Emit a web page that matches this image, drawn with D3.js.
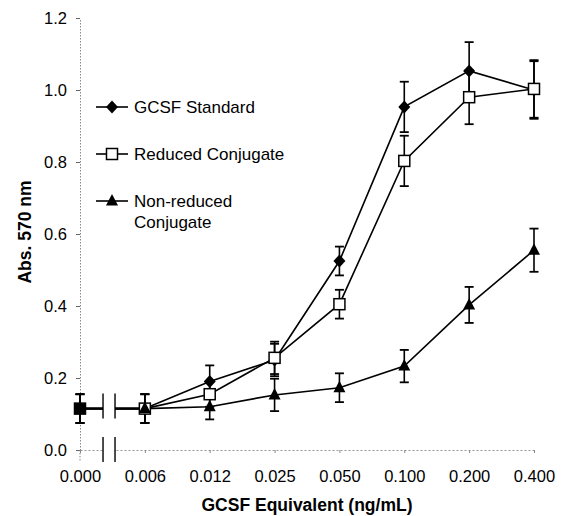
<!DOCTYPE html>
<html>
<head>
<meta charset="utf-8">
<script src="https://cdn.jsdelivr.net/npm/d3@7"></script>
<style>
  html, body { margin: 0; padding: 0; background: #fff; }
  svg { display: block; font-family: "Liberation Sans", Arial, sans-serif; }
</style>
</head>
<body>
<div id="chart"></div>
<script>
// Data
const concentrations = ["0.000", "0.006", "0.012", "0.025", "0.050", "0.100", "0.200", "0.400"];
const yTicks = [0, 0.2, 0.4, 0.6, 0.8, 1.0, 1.2];

const gcsfStandard = [0.115, 0.115, 0.19, 0.25, 0.525, 0.953, 1.053, 1.0];
const gcsfStandardErr = [0.04, 0.04, 0.045, 0.045, 0.04, 0.07, 0.08, 0.08];
const reducedConj = [0.115, 0.115, 0.155, 0.256, 0.405, 0.803, 0.98, 1.003];
const reducedConjErr = [0.04, 0.04, 0.035, 0.045, 0.04, 0.07, 0.075, 0.08];
const nonReducedConj = [0.115, 0.115, 0.12, 0.153, 0.173, 0.233, 0.403, 0.555];
const nonReducedConjErr = [0.04, 0.04, 0.035, 0.045, 0.04, 0.045, 0.05, 0.06];

const width = 565, height = 516;
const margin = { top: 18, right: 31, bottom: 66, left: 80 };

const svg = d3.select('#chart').append('svg')
    .attr('width', width)
    .attr('height', height);

const scaleX = d3.scalePoint(concentrations, [margin.left, width - margin.right]);
const scaleY = d3.scaleLinear([0, 1.2], [height - margin.bottom, margin.top]);

// break between 0.000 and 0.006 (fractions of that interval)
const breakA = scaleX(concentrations[0]) + (scaleX(concentrations[1]) - scaleX(concentrations[0])) * 0.355;
const breakB = scaleX(concentrations[0]) + (scaleX(concentrations[1]) - scaleX(concentrations[0])) * 0.54;

// Axes
const axisY = svg.append('g')
    .attr('transform', `translate(${margin.left},0)`)
    .call(d3.axisLeft(scaleY).tickValues(yTicks).tickFormat(d3.format('.1f'))
        .tickSizeInner(4).tickSizeOuter(0).tickPadding(9));
axisY.select('.domain').attr('stroke', '#888').attr('stroke-dasharray', '1.5,1.5');
axisY.selectAll('.tick line').attr('stroke', '#666');
axisY.selectAll('.tick text').attr('font-size', 16.5).attr('font-family', '"Liberation Sans", Arial, sans-serif').attr('fill', '#000');
// little extension of y axis below zero
svg.append('line')
    .attr('x1', margin.left).attr('x2', margin.left)
    .attr('y1', scaleY(0)).attr('y2', scaleY(0) + 12)
    .attr('stroke', '#888').attr('stroke-dasharray', '1.5,1.5');

const axisX = svg.append('g')
    .attr('transform', `translate(0,${scaleY(0)})`)
    .call(d3.axisBottom(scaleX).tickSizeInner(3).tickSizeOuter(0).tickPadding(17));
axisX.select('.domain').attr('stroke', '#999').attr('stroke-dasharray', '2,2');
axisX.selectAll('.tick line').attr('stroke', '#888');
axisX.selectAll('.tick text').attr('font-size', 16.5).attr('font-family', '"Liberation Sans", Arial, sans-serif').attr('fill', '#000');

// axis break marks
svg.append('rect')
    .attr('x', breakA + 1).attr('y', scaleY(0) - 2)
    .attr('width', breakB - breakA - 2).attr('height', 4)
    .attr('fill', '#fff');
[breakA, breakB].forEach(bx => {
    svg.append('line')
        .attr('x1', bx).attr('x2', bx)
        .attr('y1', scaleY(0) - 13).attr('y2', scaleY(0) + 12)
        .attr('stroke', '#000').attr('stroke-width', 1.4);
});

// Axis labels
svg.append('text')
    .attr('x', 307).attr('y', 511)
    .attr('text-anchor', 'middle')
    .attr('font-size', 17.5).attr('font-weight', 'bold')
    .text('GCSF Equivalent (ng/mL)');

svg.append('text')
    .attr('transform', `translate(31,${232}) rotate(-90)`)
    .attr('text-anchor', 'middle')
    .attr('font-size', 17.5).attr('font-weight', 'bold')
    .text('Abs. 570 nm');

const series = [
    { name: 'GCSF Standard', values: gcsfStandard, errors: gcsfStandardErr, marker: 'diamond' },
    { name: 'Reduced Conjugate', values: reducedConj, errors: reducedConjErr, marker: 'square' },
    { name: 'Non-reduced|Conjugate', values: nonReducedConj, errors: nonReducedConjErr, marker: 'triangle' }
];

function drawMarker(g, type, x, y, filledSquare) {
    if (type === 'diamond') {
        g.append('path')
            .attr('d', `M${x},${y - 6.5}L${x + 6},${y}L${x},${y + 6.5}L${x - 6},${y}Z`)
            .attr('fill', '#000');
    } else if (type === 'square') {
        g.append('rect')
            .attr('x', x - 5.5).attr('y', y - 5.5)
            .attr('width', 11).attr('height', 11)
            .attr('fill', filledSquare ? '#000' : '#fff')
            .attr('stroke', '#000').attr('stroke-width', 1.5);
    } else {
        g.append('path')
            .attr('d', `M${x},${y - 7}L${x + 6},${y + 4.5}L${x - 6},${y + 4.5}Z`)
            .attr('fill', '#000');
    }
}

const line = d3.line()
    .x(d => scaleX(d.c))
    .y(d => scaleY(d.v));

const plot = svg.append('g');

// Lines first
series.forEach(s => {
    const pts = concentrations.map((c, i) => ({ c, v: s.values[i], e: s.errors[i] }));
    plot.append('path')
        .attr('d', line(pts.slice(1)))
        .attr('fill', 'none').attr('stroke', '#000').attr('stroke-width', 1.6);
    // segment across the break
    const y0 = scaleY(pts[0].v), y1 = scaleY(pts[1].v);
    const x0 = scaleX(pts[0].c), x1 = scaleX(pts[1].c);
    const yAt = x => y0 + (y1 - y0) * (x - x0) / (x1 - x0);
    plot.append('line').attr('x1', x0).attr('y1', y0).attr('x2', breakA).attr('y2', yAt(breakA))
        .attr('stroke', '#000').attr('stroke-width', 2);
    plot.append('line').attr('x1', breakB).attr('y1', yAt(breakB)).attr('x2', x1).attr('y2', y1)
        .attr('stroke', '#000').attr('stroke-width', 2);
});

// break marks on the data line
[breakA, breakB].forEach(bx => {
    plot.append('line')
        .attr('x1', bx).attr('x2', bx)
        .attr('y1', scaleY(gcsfStandard[0]) - 15).attr('y2', scaleY(gcsfStandard[0]) + 10)
        .attr('stroke', '#000').attr('stroke-width', 1.4);
});

// Error bars
series.forEach(s => {
    concentrations.forEach((c, i) => {
        const x = scaleX(c);
        const yTop = scaleY(s.values[i] + s.errors[i]);
        const yBot = scaleY(s.values[i] - s.errors[i]);
        plot.append('line').attr('x1', x).attr('x2', x).attr('y1', yTop).attr('y2', yBot)
            .attr('stroke', '#000').attr('stroke-width', 1.6);
        [yTop, yBot].forEach(yy => {
            plot.append('line').attr('x1', x - 4.5).attr('x2', x + 4.5).attr('y1', yy).attr('y2', yy)
                .attr('stroke', '#000').attr('stroke-width', 1.8);
        });
    });
});

// Markers
series.forEach(s => {
    concentrations.forEach((c, i) => {
        drawMarker(plot, s.marker, scaleX(c), scaleY(s.values[i]), i === 0);
    });
});

// Legend
const legendRows = [107, 154, 201];
const legend = svg.append('g');
series.forEach((s, k) => {
    const ly = legendRows[k];
    legend.append('line').attr('x1', 96).attr('x2', 128).attr('y1', ly).attr('y2', ly)
        .attr('stroke', '#000').attr('stroke-width', 1.6);
    drawMarker(legend, s.marker, 112, ly, false);
    const t = legend.append('text')
        .attr('x', 134).attr('y', ly + 6)
        .attr('font-size', 17).attr('fill', '#000');
    s.name.split('|').forEach((part, j) => {
        t.append('tspan').attr('x', 134).attr('dy', j === 0 ? 0 : 21).text(part);
    });
});
</script>
</body>
</html>
